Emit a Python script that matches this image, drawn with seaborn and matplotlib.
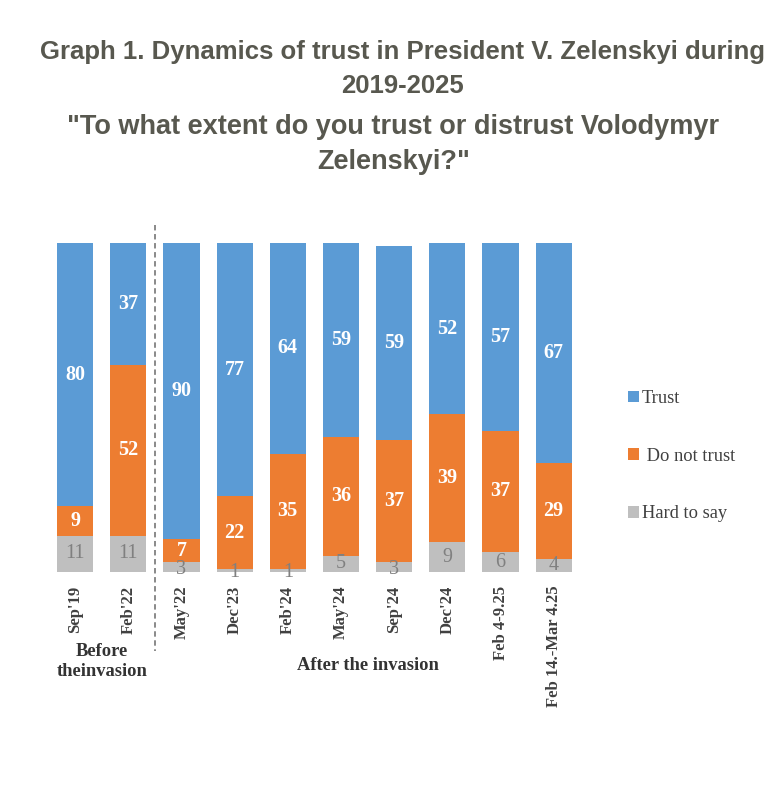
import matplotlib
matplotlib.use("Agg")
import matplotlib.pyplot as plt
import seaborn as sns
import pandas as pd
import numpy as np
from matplotlib import font_manager as fm

categories = ["Sep'19", "Feb'22", "May'22", "Dec'23", "Feb'24", "May'24",
              "Sep'24", "Dec'24", "Feb 4-9.25", "Feb 14.-Mar 4.25"]
trust = [80, 37, 90, 77, 64, 59, 59, 52, 57, 67]
do_not_trust = [9, 52, 7, 22, 35, 36, 37, 39, 37, 29]
hard_to_say = [11, 11, 3, 1, 1, 5, 3, 9, 6, 4]
series_names = ["Trust", " Do not trust", "Hard to say"]
group_labels = ["Before\ntheinvasion", "After the invasion"]
title_lines = ["Graph 1. Dynamics of trust in President V. Zelenskyi during\n2019-2025",
               "\"To what extent do you trust or distrust Volodymyr\nZelenskyi?\""]

C_TRUST = "#5B9BD5"
C_DNT = "#ED7D31"
C_HARD = "#BFBFBF"

sns.set_theme(style="white")
names = {f.name for f in fm.fontManager.ttflist}
title_font = ["Liberation Sans Narrow", "Liberation Sans", "DejaVu Sans"]
title_font = [f for f in title_font if f in names] or ["DejaVu Sans"]
serif = ["Liberation Serif", "DejaVu Serif"]
plt.rcParams['font.family'] = serif

fig = plt.figure(figsize=(7.74, 7.92), dpi=100)
ax = fig.add_axes([0.0627, 0.2778, 0.687, 0.4154])

df = pd.DataFrame({"cat": categories, "trust": trust, "dnt": do_not_trust, "hard": hard_to_say})
df["top_dnt"] = df["dnt"] + df["hard"]
df["top_trust"] = df["trust"] + df["top_dnt"]

kw = dict(saturation=1, width=0.68, ax=ax, linewidth=0, edgecolor="none")
sns.barplot(data=df, x="cat", y="top_trust", color=C_TRUST, label=series_names[0], **kw)
sns.barplot(data=df, x="cat", y="top_dnt", color=C_DNT, label=series_names[1], **kw)
sns.barplot(data=df, x="cat", y="hard", color=C_HARD, label=series_names[2], **kw)

ax.set_xlim(-0.5, len(categories) - 0.5)
ax.set_ylim(0, 100)
ax.set_xlabel("")
ax.set_ylabel("")
ax.set_yticks([])
for s in ax.spines.values():
    s.set_visible(False)
ax.tick_params(axis="x", length=0, pad=10)
ax.set_xticks(range(len(categories)))
ax.set_xticklabels(categories, rotation=90, fontsize=12, fontweight="bold",
                   color="#404040", family=serif, va="top")

for i in range(len(categories)):
    h, d, t = hard_to_say[i], do_not_trust[i], trust[i]
    ax.text(i, h + d + t / 2, str(t), ha="center", va="center", color="white",
            fontsize=14.5, fontweight="bold", family=serif)
    ax.text(i, h + d / 2, str(d), ha="center", va="center", color="white",
            fontsize=14.5, fontweight="bold", family=serif)
    ax.text(i, h / 2 - (0.6 if h < 4 else 0), str(h), ha="center", va="center", color="#808080",
            fontsize=14.5, family=serif)

# divider
ax.plot([1.5, 1.5], [105.5, -24], ls=(0, (3, 2)), color="#808080", lw=1.3, clip_on=False)

ax.text(0.5, -27.2, group_labels[0], ha="center", va="center", fontsize=13.3,
        fontweight="bold", color="#333333", family=serif, linespacing=1.3)
ax.text(5.5, -28.3, group_labels[1], ha="center", va="center", fontsize=13.3,
        fontweight="bold", color="#333333", family=serif)

# titles
fig.text(0.52, 0.913, title_lines[0], ha="center", va="center", fontsize=18.5,
         fontweight="bold", color="#58584F", family=title_font, linespacing=1.55)
fig.text(0.508, 0.818, title_lines[1], ha="center", va="center", fontsize=19.5,
         fontweight="bold", color="#58584F", family=title_font, linespacing=1.45)

handles, labels = ax.get_legend_handles_labels()
leg = fig.legend(handles, labels, loc="center left", bbox_to_anchor=(0.79, 0.424),
                 frameon=False, labelspacing=2.2, handlelength=0.6,
                 handleheight=0.6, handletextpad=0.15, labelcolor="#404040",
                 prop={"family": serif, "size": 13.3})
if ax.get_legend():
    ax.get_legend().remove()

fig.savefig("out.png", dpi=100, facecolor="white")
